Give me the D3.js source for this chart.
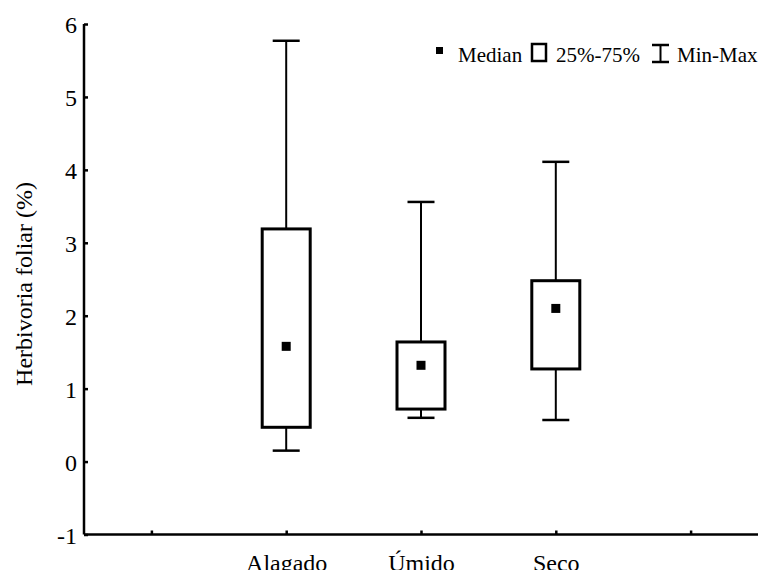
<!DOCTYPE html>
<html>
<head>
<meta charset="utf-8">
<script src="https://cdn.jsdelivr.net/npm/d3@7"></script>
<style>
  html, body { margin: 0; padding: 0; background: #fff; }
  svg { display: block; }
  text { font-family: "Liberation Serif", "Times New Roman", serif; fill: #000; }
</style>
</head>
<body>
<svg id="chart" width="760" height="570"></svg>
<script>
// ---- data ----
const categories = ["Alagado", "Úmido", "Seco"];
const slotLabels = ["", "Alagado", "Úmido", "Seco", ""];
const mins    = [0.15, 0.60, 0.57];
const q1      = [0.47, 0.72, 1.27];
const medians = [1.58, 1.32, 2.10];
const q3      = [3.19, 1.64, 2.48];
const maxs    = [5.77, 3.56, 4.11];
const yTicks  = [-1, 0, 1, 2, 3, 4, 5, 6];
const yTitle  = "Herbivoria foliar (%)";
const legendLabels = ["Median", "25%-75%", "Min-Max"];

// ---- layout ----
const svg = d3.select("#chart");
const mLeft = 84, mRight = 758, mTop = 24, mBottom = 534.5;

const x = d3.scalePoint().domain(d3.range(slotLabels.length)).range([mLeft, mRight]).padding(0.5);
const y = d3.scaleLinear().domain([-1, 6]).range([mBottom, mTop]);

// axes
const yAxis = d3.axisLeft(y).tickValues(yTicks).tickSize(-4).tickPadding(10).tickFormat(d => String(d));
const gy = svg.append("g").attr("transform", `translate(${mLeft},0)`).call(yAxis);
gy.select(".domain").attr("stroke-width", 2.5).attr("d", `M0,${mTop}V${mBottom}`);
gy.selectAll(".tick line").attr("stroke-width", 2.5);
gy.selectAll(".tick text").style("font-size", "24px").style("font-family", "Liberation Serif").attr("x", -7).attr("dy", "0.36em");

const xAxis = d3.axisBottom(x).tickSize(-4).tickPadding(0).tickFormat(i => slotLabels[i]);
const gx = svg.append("g").attr("transform", `translate(0,${mBottom})`).call(xAxis);
gx.select(".domain").attr("stroke-width", 2.5).attr("d", `M${mLeft},0H${mRight}`);
gx.selectAll(".tick line").attr("stroke-width", 2.5);
gx.selectAll(".tick text").style("font-size", "24px").style("font-family", "Liberation Serif").attr("y", 36).attr("dy", 0);

// title
svg.append("text")
  .attr("transform", `translate(32,284) rotate(-90)`)
  .attr("text-anchor", "middle")
  .style("font-size", "24px")
  .text(yTitle);

// boxes
const boxW = 48, capW = 27, medS = 9;
const g = svg.append("g");
categories.forEach((c, i) => {
  const cx = x(i + 1);
  g.append("line").attr("x1", cx).attr("x2", cx).attr("y1", y(maxs[i])).attr("y2", y(q3[i]))
    .attr("stroke", "#000").attr("stroke-width", 2);
  g.append("line").attr("x1", cx).attr("x2", cx).attr("y1", y(q1[i])).attr("y2", y(mins[i]))
    .attr("stroke", "#000").attr("stroke-width", 2);
  g.append("line").attr("x1", cx - capW / 2).attr("x2", cx + capW / 2).attr("y1", y(maxs[i])).attr("y2", y(maxs[i]))
    .attr("stroke", "#000").attr("stroke-width", 2.5);
  g.append("line").attr("x1", cx - capW / 2).attr("x2", cx + capW / 2).attr("y1", y(mins[i])).attr("y2", y(mins[i]))
    .attr("stroke", "#000").attr("stroke-width", 2.5);
  g.append("rect").attr("x", cx - boxW / 2).attr("width", boxW)
    .attr("y", y(q3[i])).attr("height", y(q1[i]) - y(q3[i]))
    .attr("fill", "#fff").attr("stroke", "#000").attr("stroke-width", 3);
  g.append("rect").attr("x", cx - medS / 2).attr("y", y(medians[i]) - medS / 2)
    .attr("width", medS).attr("height", medS).attr("fill", "#000");
});

// legend
const lg = svg.append("g");
const ly = 62;
lg.append("rect").attr("x", 436).attr("y", 47).attr("width", 7).attr("height", 7).attr("fill", "#000");
lg.append("text").attr("x", 458).attr("y", ly).style("font-size", "21px").text(legendLabels[0]);
lg.append("rect").attr("x", 532).attr("y", 44).attr("width", 14).attr("height", 17)
  .attr("fill", "none").attr("stroke", "#000").attr("stroke-width", 2.5);
lg.append("text").attr("x", 556).attr("y", ly).style("font-size", "21px").text(legendLabels[1]);
lg.append("line").attr("x1", 660.5).attr("x2", 660.5).attr("y1", 45).attr("y2", 62).attr("stroke", "#000").attr("stroke-width", 2);
lg.append("line").attr("x1", 652).attr("x2", 669).attr("y1", 45).attr("y2", 45).attr("stroke", "#000").attr("stroke-width", 2.5);
lg.append("line").attr("x1", 652).attr("x2", 669).attr("y1", 62).attr("y2", 62).attr("stroke", "#000").attr("stroke-width", 2.5);
lg.append("text").attr("x", 677).attr("y", ly).style("font-size", "21px").text(legendLabels[2]);
</script>
</body>
</html>
